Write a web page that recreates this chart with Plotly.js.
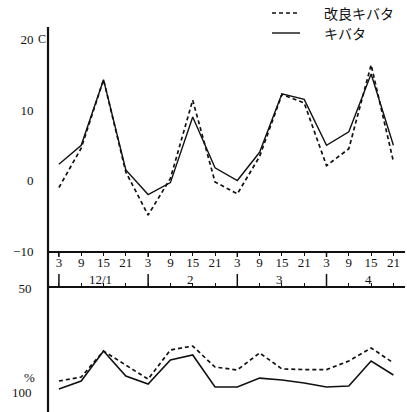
<!DOCTYPE html>
<html>
<head>
<meta charset="utf-8">
<script src="https://cdn.plot.ly/plotly-3.0.1.min.js"></script>
<style>html,body{margin:0;padding:0;background:#fff;}#chart{width:407px;height:412px;}</style>
</head>
<body>
<div id="chart"></div>
<script>
// ---- data ----
var idx = [0,1,2,3,4,5,6,7,8,9,10,11,12,13,14,15];
var hourLabels = ['3','9','15','21','3','9','15','21','3','9','15','21','3','9','15','21'];
var dayLabels = ['12/1','2','3','4'];
var dayStarts = [0,4,8,12];
var seriesNames = ['改良キバタ','キバタ'];
// temperature (°C)
var tempImproved = [-1.0,4.6,14.3,1.2,-4.9,0.3,11.4,-0.2,-1.9,3.4,12.2,11.0,2.1,4.5,16.4,2.7];
var tempKibata   = [2.3,5.0,14.3,1.5,-2.0,-0.3,9.0,1.8,0.0,4.0,12.3,11.5,5.0,6.9,15.1,5.0];
// relative humidity (%)
var humImproved = [94.7,92.8,80.3,87.0,93.8,79.8,77.9,88.0,89.4,81.2,88.9,89.2,89.2,85.1,78.8,86.0];
var humKibata   = [98.6,94.7,80.3,92.3,96.2,84.6,82.2,97.6,97.6,93.3,94.2,95.7,97.6,97.1,85.1,91.8];
var tempTicks = [-10,0,10,20];
var tempTickText = ['\u221210','0','10','20'];
var humTicks = [50,100];
var humTickText = ['50','100'];

var H = 412;
function py(p){ return (H - p)/H; }

var serif = 'Liberation Serif, DejaVu Serif, serif';
var dashPat = '4px,3px';

var traces = [
  {x: idx, y: tempImproved, xaxis:'x', yaxis:'y', mode:'lines', name: seriesNames[0],
   line:{color:'#111', width:1.7, dash:dashPat}, showlegend:false},
  {x: idx, y: tempKibata, xaxis:'x', yaxis:'y', mode:'lines', name: seriesNames[1],
   line:{color:'#111', width:1.4}, showlegend:false},
  {x: idx, y: humImproved, xaxis:'x2', yaxis:'y2', mode:'lines', name: seriesNames[0],
   line:{color:'#111', width:1.7, dash:dashPat}, showlegend:false},
  {x: idx, y: humKibata, xaxis:'x2', yaxis:'y2', mode:'lines', name: seriesNames[1],
   line:{color:'#111', width:1.6}, showlegend:false}
];

var shapes = [];
// continuous left axis line
shapes.push({type:'line', xref:'paper', yref:'paper', x0:0, x1:0, y0:0, y1:py(27),
  line:{color:'#111', width:2.2}});
// day boundary ticks
dayStarts.forEach(function(d){
  shapes.push({type:'line', xref:'x', yref:'paper', x0:d, x1:d, y0:py(251), y1:py(257),
    line:{color:'#111', width:1.5}});
  shapes.push({type:'line', xref:'x', yref:'paper', x0:d, x1:d, y0:py(274), y1:py(288),
    line:{color:'#111', width:1.5}});
});
// legend samples
shapes.push({type:'line', xref:'paper', yref:'paper', x0:(272-48)/357, x1:(300-48)/357,
  y0:py(13), y1:py(13), line:{color:'#111', width:1.6, dash:dashPat}});
shapes.push({type:'line', xref:'paper', yref:'paper', x0:(272-48)/357, x1:(300-48)/357,
  y0:py(33), y1:py(33), line:{color:'#111', width:1.4}});

var annotations = [];
dayLabels.forEach(function(t,i){
  annotations.push({x: dayStarts[i]+1.88, xref:'x', y: py(279), yref:'paper', text:t,
    showarrow:false, xanchor:'center', yanchor:'middle', font:{family:serif, size:13, color:'#111'}});
});
annotations.push({x:(36-48)/357, xref:'paper', y:py(39), yref:'paper', text:'C', showarrow:false,
  xanchor:'left', yanchor:'middle', font:{family:serif, size:12, color:'#111'}});
annotations.push({x:(37-48)/357, xref:'paper', y:py(377), yref:'paper', text:'%', showarrow:false,
  xanchor:'right', yanchor:'middle', font:{family:serif, size:13, color:'#111'}});
annotations.push({x:(322-48)/357, xref:'paper', y:py(13), yref:'paper', text:seriesNames[0], showarrow:false,
  xanchor:'left', yanchor:'middle', font:{family:'Noto Sans CJK JP', size:14, color:'#111'}});
annotations.push({x:(322-48)/357, xref:'paper', y:py(33), yref:'paper', text:seriesNames[1], showarrow:false,
  xanchor:'left', yanchor:'middle', font:{family:'Noto Sans CJK JP', size:14, color:'#111'}});

var layout = {
  width:407, height:412,
  margin:{l:48, r:2, t:0, b:0},
  paper_bgcolor:'#fff', plot_bgcolor:'#fff',
  showlegend:false,
  xaxis:{domain:[0,1], anchor:'y', range:[-0.49,15.52], showgrid:false, zeroline:false,
    showline:true, linecolor:'#111', linewidth:1.5,
    tickmode:'array', tickvals: idx, ticktext: hourLabels,
    ticks:'outside', ticklen:3, tickcolor:'#111', tickwidth:1, ticklabelstandoff:-4,
    tickfont:{family:serif, size:13, color:'#111'}},
  xaxis2:{domain:[0,1], anchor:'y2', side:'top', range:[-0.49,15.52], showgrid:false, zeroline:false,
    showline:true, linecolor:'#111', linewidth:2,
    tickmode:'array', tickvals: idx, showticklabels:false,
    ticks:'outside', ticklen:3, tickcolor:'#111', tickwidth:1},
  yaxis:{domain:[py(251), py(27)], anchor:'x', range:[-10, 21.77], showgrid:false, zeroline:false,
    showline:false, tickmode:'array', tickvals: tempTicks, ticktext: tempTickText,
    ticks:'outside', ticklen:11, tickcolor:'rgba(0,0,0,0)',
    tickfont:{family:serif, size:13, color:'#111'}},
  yaxis2:{domain:[0, py(288)], anchor:'x2', range:[109.6, 50], showgrid:false, zeroline:false,
    showline:false, tickmode:'array', tickvals: humTicks, ticktext: humTickText,
    ticks:'outside', ticklen:13, tickcolor:'rgba(0,0,0,0)',
    tickfont:{family:serif, size:13, color:'#111'}},
  shapes: shapes,
  annotations: annotations
};

Plotly.newPlot('chart', traces, layout, {staticPlot:true, displayModeBar:false});
</script>
</body>
</html>
